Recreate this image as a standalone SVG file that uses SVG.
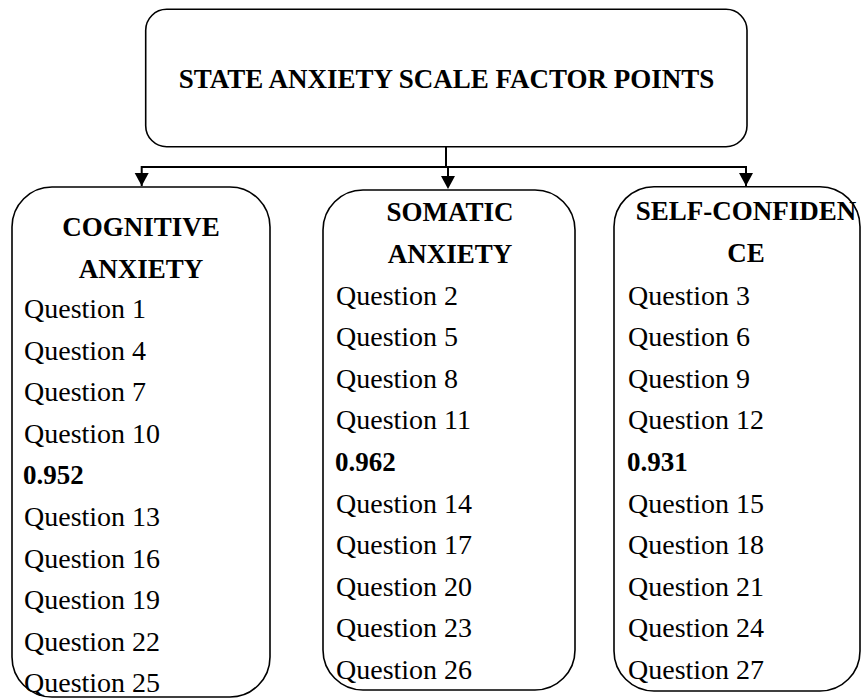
<svg xmlns="http://www.w3.org/2000/svg" width="865" height="699" viewBox="0 0 865 699">
<style>
.box{fill:#fff;stroke:#000;stroke-width:1.6}
.t{font-family:"Liberation Serif","Times New Roman",serif;font-size:28px;fill:#000}
.b{font-family:"Liberation Serif","Times New Roman",serif;font-size:27px;font-weight:bold;fill:#000}
.c{text-anchor:middle}
.ln{fill:none;stroke:#000;stroke-width:2}
</style>
<defs>
<marker id="ah" viewBox="0 0 14 13" refX="7" refY="13" markerWidth="14" markerHeight="13" markerUnits="userSpaceOnUse" orient="auto-start-reverse">
<path d="M0,0 L14,0 L7,13 Z" fill="#000"/>
</marker>
</defs>
<rect width="865" height="699" fill="#fff"/>
<g id="connectors">
<path class="ln" d="M446,146.7 V167"/>
<path class="ln" d="M141.7,186 V167 H746 V186"/>
<path d="M141.7,173 V173" class="ln"/>
<path d="M134.7,173 L148.7,173 L141.7,186 Z" fill="#000"/>
<path class="ln" d="M448,167 V178"/>
<path d="M441,176 L455,176 L448,189 Z" fill="#000"/>
<path d="M739,173 L753,173 L746,186 Z" fill="#000"/>
</g>
<g id="root">
<rect class="box" x="145.7" y="9.3" width="601.3" height="137.4" rx="21"/>
<text class="b c" x="446.5" y="88">STATE ANXIETY SCALE FACTOR POINTS</text>
</g>
<g id="cognitive">
<rect class="box" x="12" y="187" width="258" height="510" rx="40"/>
<text class="b c" x="141" y="236">COGNITIVE</text>
<text class="b c" x="141" y="278">ANXIETY</text>
<text class="t" x="24" y="318">Question 1</text>
<text class="t" x="24" y="359.6">Question 4</text>
<text class="t" x="24" y="401.2">Question 7</text>
<text class="t" x="24" y="442.8">Question 10</text>
<text class="b" x="23" y="484.4">0.952</text>
<text class="t" x="24" y="526">Question 13</text>
<text class="t" x="24" y="567.6">Question 16</text>
<text class="t" x="24" y="609.2">Question 19</text>
<text class="t" x="24" y="650.8">Question 22</text>
<text class="t" x="24" y="692.4">Question 25</text>
</g>
<g id="somatic">
<rect class="box" x="323" y="190" width="252" height="500" rx="40"/>
<text class="b c" x="450" y="221">SOMATIC</text>
<text class="b c" x="450" y="263">ANXIETY</text>
<text class="t" x="336" y="304.6">Question 2</text>
<text class="t" x="336" y="346.2">Question 5</text>
<text class="t" x="336" y="387.8">Question 8</text>
<text class="t" x="336" y="429.4">Question 11</text>
<text class="b" x="335" y="471">0.962</text>
<text class="t" x="336" y="512.6">Question 14</text>
<text class="t" x="336" y="554.2">Question 17</text>
<text class="t" x="336" y="595.8">Question 20</text>
<text class="t" x="336" y="637.4">Question 23</text>
<text class="t" x="336" y="679">Question 26</text>
</g>
<g id="selfconfidence">
<rect class="box" x="614" y="186.7" width="246" height="504.3" rx="40"/>
<text class="b c" x="746" y="220">SELF-CONFIDEN</text>
<text class="b c" x="746" y="262">CE</text>
<text class="t" x="628" y="304.6">Question 3</text>
<text class="t" x="628" y="346.2">Question 6</text>
<text class="t" x="628" y="387.8">Question 9</text>
<text class="t" x="628" y="429.4">Question 12</text>
<text class="b" x="627" y="471">0.931</text>
<text class="t" x="628" y="512.6">Question 15</text>
<text class="t" x="628" y="554.2">Question 18</text>
<text class="t" x="628" y="595.8">Question 21</text>
<text class="t" x="628" y="637.4">Question 24</text>
<text class="t" x="628" y="679">Question 27</text>
</g>
</svg>
